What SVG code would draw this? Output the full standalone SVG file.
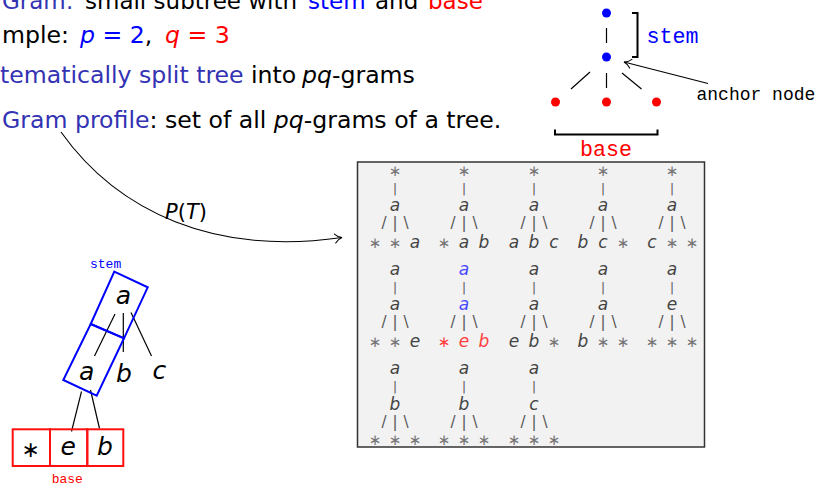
<svg xmlns="http://www.w3.org/2000/svg" width="816" height="487" viewBox="0 0 816 487">
<defs>
<marker id="arr" markerUnits="userSpaceOnUse" markerWidth="14" markerHeight="14" refX="0" refY="0" viewBox="-8 -7 10 14" orient="auto" overflow="visible">
<path d="M-7,-4.5 C-5,-2 -2,-0.5 0,0 C-2,0.5 -5,2 -7,4.5" fill="none" stroke="#000" stroke-width="1.1" stroke-linecap="round"/>
</marker>
</defs>
<style>
.t{font-family:"DejaVu Sans",sans-serif;font-size:23.6px;fill:#000}
.t1{font-size:23px}
.st{fill:#3333b3}
.bl{fill:#0000ff}
.rd{fill:#ff0000}
.it{font-style:oblique}
.mono{font-family:"Liberation Mono","DejaVu Sans Mono",monospace}
.g{font-family:"DejaVu Sans",sans-serif;font-size:17px;font-style:oblique;fill:#444;text-anchor:middle}
.ast{font-family:"DejaVu Sans",sans-serif;font-size:15px;font-style:normal;fill:#777;text-anchor:middle}
.bar{font-family:"DejaVu Sans",sans-serif;font-size:12px;font-style:normal;fill:#555;text-anchor:middle}
.sl{font-family:"DejaVu Sans",sans-serif;font-size:15px;font-style:normal;fill:#555;text-anchor:middle}
.gb{fill:#4848ff}
.gr{fill:#ff4040}
.edge{stroke:#000;stroke-width:1.2;fill:none}
.lt{font-family:"DejaVu Sans",sans-serif;font-size:25px;font-style:oblique;fill:#000;text-anchor:middle}
</style>

<g id="text">
<text class="t t1" y="9"><tspan x="2" class="st">Gram:</tspan><tspan x="85">small subtree with</tspan><tspan x="308" class="bl">stem</tspan><tspan x="375">and</tspan><tspan x="428" class="rd">base</tspan></text>
<text class="t" y="43"><tspan x="2">mple:</tspan><tspan x="80" class="bl"><tspan class="it">p</tspan> = 2</tspan><tspan>,</tspan><tspan x="165" class="rd"><tspan class="it">q</tspan> = 3</tspan></text>
<text class="t" y="83"><tspan x="0" class="st">tematically split tree</tspan><tspan x="251">into</tspan><tspan x="302" class="it">pq</tspan><tspan>-grams</tspan></text>
<text class="t" y="128"><tspan x="2" class="st">Gram profile</tspan><tspan>: set of all </tspan><tspan class="it">pq</tspan><tspan>-grams of a tree.</tspan></text>
</g>

<g id="pqgram-schema">
<circle cx="606.5" cy="13" r="4.5" fill="#0000ff"/>
<circle cx="606.5" cy="57" r="4.5" fill="#0000ff"/>
<circle cx="555.5" cy="102" r="4.5" fill="#ff0000"/>
<circle cx="606.5" cy="102" r="4.5" fill="#ff0000"/>
<circle cx="656.5" cy="102" r="4.5" fill="#ff0000"/>
<line class="edge" x1="606.5" y1="28" x2="606.5" y2="43"/>
<line class="edge" x1="590" y1="72" x2="571" y2="89"/>
<line class="edge" x1="606.5" y1="73" x2="606.5" y2="88"/>
<line class="edge" x1="622" y1="73" x2="641.5" y2="89"/>
<path d="M632,13 H637.5 V57 H632" fill="none" stroke="#000" stroke-width="2"/>
<text class="mono bl" x="646.5" y="43" font-size="21.7">stem</text>
<path d="M555,129.5 V134.5 H657.5 V129.5" fill="none" stroke="#000" stroke-width="2"/>
<text class="mono rd" x="580" y="156" font-size="21.7">base</text>
<text class="mono" x="696.5" y="99.5" font-size="18">anchor node</text>
</g>

<g id="profile-box">
<rect x="357.5" y="162" width="347" height="285" fill="#f2f2f2" stroke="#333" stroke-width="1.5"/>
</g>

<g id="grams">
<g id="gram-1-1" transform="translate(395,175.5)">
<text class="ast" y="0">∗</text><text class="bar" y="17">|</text><text class="g" y="35">a</text>
<text class="sl" x="-11" y="52">/</text><text class="sl" y="52">|</text><text class="sl" x="11" y="52">\</text>
<text class="ast" x="-20" y="72">∗</text><text class="ast" y="72">∗</text><text class="g" x="20" y="72">a</text>
</g>
<g id="gram-1-2" transform="translate(464,175.5)">
<text class="ast" y="0">∗</text><text class="bar" y="17">|</text><text class="g" y="35">a</text>
<text class="sl" x="-11" y="52">/</text><text class="sl" y="52">|</text><text class="sl" x="11" y="52">\</text>
<text class="ast" x="-20" y="72">∗</text><text class="g" y="72">a</text><text class="g" x="20" y="72">b</text>
</g>
<g id="gram-1-3" transform="translate(534,175.5)">
<text class="ast" y="0">∗</text><text class="bar" y="17">|</text><text class="g" y="35">a</text>
<text class="sl" x="-11" y="52">/</text><text class="sl" y="52">|</text><text class="sl" x="11" y="52">\</text>
<text class="g" x="-20" y="72">a</text><text class="g" y="72">b</text><text class="g" x="20" y="72">c</text>
</g>
<g id="gram-1-4" transform="translate(603,175.5)">
<text class="ast" y="0">∗</text><text class="bar" y="17">|</text><text class="g" y="35">a</text>
<text class="sl" x="-11" y="52">/</text><text class="sl" y="52">|</text><text class="sl" x="11" y="52">\</text>
<text class="g" x="-20" y="72">b</text><text class="g" y="72">c</text><text class="ast" x="20" y="72">∗</text>
</g>
<g id="gram-1-5" transform="translate(672,175.5)">
<text class="ast" y="0">∗</text><text class="bar" y="17">|</text><text class="g" y="35">a</text>
<text class="sl" x="-11" y="52">/</text><text class="sl" y="52">|</text><text class="sl" x="11" y="52">\</text>
<text class="g" x="-20" y="72">c</text><text class="ast" y="72">∗</text><text class="ast" x="20" y="72">∗</text>
</g>
<g id="gram-2-1" transform="translate(395,275)">
<text class="g" y="0">a</text><text class="bar" y="17">|</text><text class="g" y="35">a</text>
<text class="sl" x="-11" y="52">/</text><text class="sl" y="52">|</text><text class="sl" x="11" y="52">\</text>
<text class="ast" x="-20" y="72">∗</text><text class="ast" y="72">∗</text><text class="g" x="20" y="72">e</text>
</g>
<g id="gram-2-2" transform="translate(464,275)">
<text class="g gb" y="0">a</text><text class="bar" y="17">|</text><text class="g gb" y="35">a</text>
<text class="sl" x="-11" y="52">/</text><text class="sl" y="52">|</text><text class="sl" x="11" y="52">\</text>
<text class="ast gr" x="-20" y="72">∗</text><text class="g gr" y="72">e</text><text class="g gr" x="20" y="72">b</text>
</g>
<g id="gram-2-3" transform="translate(534,275)">
<text class="g" y="0">a</text><text class="bar" y="17">|</text><text class="g" y="35">a</text>
<text class="sl" x="-11" y="52">/</text><text class="sl" y="52">|</text><text class="sl" x="11" y="52">\</text>
<text class="g" x="-20" y="72">e</text><text class="g" y="72">b</text><text class="ast" x="20" y="72">∗</text>
</g>
<g id="gram-2-4" transform="translate(603,275)">
<text class="g" y="0">a</text><text class="bar" y="17">|</text><text class="g" y="35">a</text>
<text class="sl" x="-11" y="52">/</text><text class="sl" y="52">|</text><text class="sl" x="11" y="52">\</text>
<text class="g" x="-20" y="72">b</text><text class="ast" y="72">∗</text><text class="ast" x="20" y="72">∗</text>
</g>
<g id="gram-2-5" transform="translate(672,275)">
<text class="g" y="0">a</text><text class="bar" y="17">|</text><text class="g" y="35">e</text>
<text class="sl" x="-11" y="52">/</text><text class="sl" y="52">|</text><text class="sl" x="11" y="52">\</text>
<text class="ast" x="-20" y="72">∗</text><text class="ast" y="72">∗</text><text class="ast" x="20" y="72">∗</text>
</g>
<g id="gram-3-1" transform="translate(395,373.5)">
<text class="g" y="0">a</text><text class="bar" y="17">|</text><text class="g" y="36">b</text>
<text class="sl" x="-11" y="53">/</text><text class="sl" y="53">|</text><text class="sl" x="11" y="53">\</text>
<text class="ast" x="-20" y="71.5">∗</text><text class="ast" y="71.5">∗</text><text class="ast" x="20" y="71.5">∗</text>
</g>
<g id="gram-3-2" transform="translate(464,373.5)">
<text class="g" y="0">a</text><text class="bar" y="17">|</text><text class="g" y="36">b</text>
<text class="sl" x="-11" y="53">/</text><text class="sl" y="53">|</text><text class="sl" x="11" y="53">\</text>
<text class="ast" x="-20" y="71.5">∗</text><text class="ast" y="71.5">∗</text><text class="ast" x="20" y="71.5">∗</text>
</g>
<g id="gram-3-3" transform="translate(534,373.5)">
<text class="g" y="0">a</text><text class="bar" y="17">|</text><text class="g" y="36">c</text>
<text class="sl" x="-11" y="53">/</text><text class="sl" y="53">|</text><text class="sl" x="11" y="53">\</text>
<text class="ast" x="-20" y="71.5">∗</text><text class="ast" y="71.5">∗</text><text class="ast" x="20" y="71.5">∗</text>
</g>
</g>

<g id="example-tree">
<g id="tree-edges">
<line class="edge" x1="115" y1="314" x2="94.5" y2="356"/>
<line class="edge" x1="123.3" y1="313" x2="123.3" y2="352"/>
<line class="edge" x1="131" y1="312.5" x2="151.5" y2="356"/>
<line class="edge" x1="81.5" y1="391.5" x2="71.5" y2="431.5"/>
<line class="edge" x1="90.5" y1="390" x2="99.5" y2="428.5"/>
</g>
<g id="node-root"><text class="lt" x="123.3" y="303.5">a</text></g>
<g id="node-a"><text class="lt" x="86.7" y="380">a</text></g>
<g id="node-b"><text class="lt" x="124" y="381.5">b</text></g>
<g id="node-c"><text class="lt" x="159.3" y="379">c</text></g>
<g id="stem-boxes" fill="none" stroke="#0000ff" stroke-width="2">
<polygon points="114.3,271.7 147.7,287.3 124,338.3 90.7,324"/>
<polygon points="90.7,324 124,338.3 96.7,395.7 63.3,380"/>
</g>
<text class="mono bl" x="90" y="267.5" font-size="13">stem</text>
<g id="base-boxes" fill="none" stroke="#ff1010" stroke-width="2">
<rect x="12.7" y="429.3" width="37.3" height="36.7"/>
<rect x="50" y="429.3" width="37.3" height="36.7"/>
<rect x="87.3" y="429.3" width="36" height="36.7"/>
</g>
<text x="30.7" y="457" font-family="DejaVu Sans,sans-serif" font-size="22" text-anchor="middle" fill="#000">∗</text>
<text class="lt" x="68.3" y="455">e</text>
<text class="lt" x="105" y="455">b</text>
<text class="mono rd" x="51.7" y="482.5" font-size="13">base</text>
</g>

<g id="connectors">
<path d="M61,132 C118,212 215,256 342,237.5" fill="none" stroke="#000" stroke-width="1.1" marker-end="url(#arr)"/>
<text x="165" y="218.5" font-family="DejaVu Sans,sans-serif" font-size="21" fill="#000"><tspan font-style="oblique">P</tspan>(<tspan font-style="oblique">T</tspan>)</text>
<line x1="708" y1="83.5" x2="624" y2="62" stroke="#000" stroke-width="1.1" marker-end="url(#arr)"/>
</g>
</svg>
